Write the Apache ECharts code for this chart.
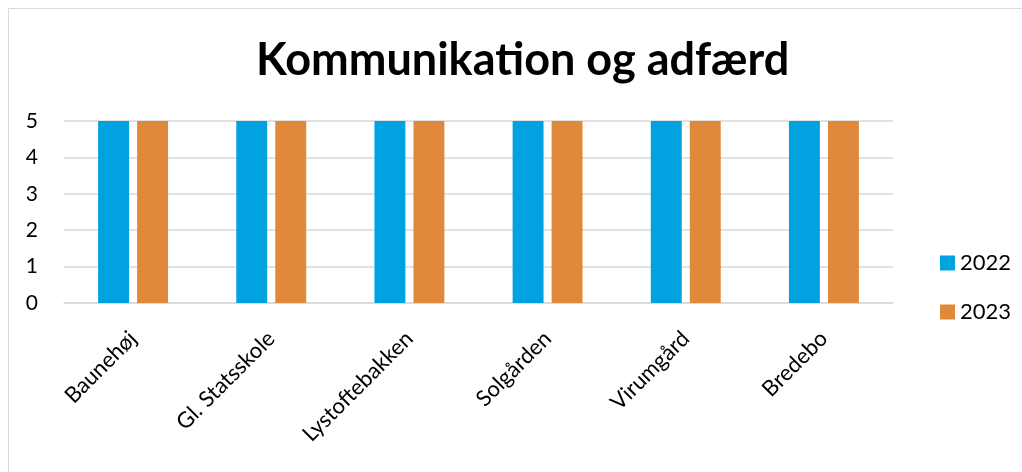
<!DOCTYPE html>
<html lang="da">
<head>
  <meta charset="UTF-8">
  <title>Kommunikation og adfærd</title>
  <style>
    html, body { margin: 0; padding: 0; background: #fff; }
    #chart { width: 1022px; height: 472px; }
  </style>
</head>
<body>
  <div id="chart"></div>
</body>
<script src="https://cdn.jsdelivr.net/npm/echarts@6/dist/echarts.min.js"></script>
<script>
  // data
  let categories = ['Baunehøj', 'Gl. Statsskole', 'Lystoftebakken', 'Solgården', 'Virumgård', 'Bredebo']
  let values2022 = [5, 5, 5, 5, 5, 5]
  let values2023 = [5, 5, 5, 5, 5, 5]
  let seriesNames = ['2022', '2023']

  let font = 'Lato'
  let chart = echarts.init(document.getElementById('chart'))
  chart.setOption({
    animation: false,
    textStyle: { fontFamily: font },
    graphic: [
      {
        type: 'rect',
        shape: { x: 8.5, y: 8.5, width: 1100, height: 600 },
        style: { fill: 'none', stroke: '#d9d9d9', lineWidth: 1 }
      }
    ],
    title: {
      text: 'Kommunikation og adfærd',
      left: 251,
      top: 33,
      textStyle: { fontFamily: font, fontWeight: 'bold', fontSize: 45, color: '#000' }
    },
    legend: {
      orient: 'vertical',
      left: 935,
      top: 247,
      itemWidth: 15,
      itemHeight: 15,
      itemGap: 27,
      icon: 'rect',
      textStyle: { fontFamily: font, fontSize: 22, color: '#000' },
      data: seriesNames
    },
    grid: { left: 64, right: 129, top: 121, bottom: 169, containLabel: false },
    xAxis: {
      type: 'category',
      data: categories,
      axisLine: { lineStyle: { color: '#d9d9d9', width: 1.5 } },
      axisTick: { show: false },
      axisLabel: { rotate: 45, margin: 32, fontFamily: font, fontSize: 22, color: '#000' }
    },
    yAxis: {
      type: 'value',
      min: 0,
      max: 5,
      interval: 1,
      axisLine: { show: false },
      axisTick: { show: false },
      splitLine: { lineStyle: { color: '#d9d9d9', width: 1.5 } },
      axisLabel: { margin: 26, fontFamily: font, fontSize: 21, color: '#000' }
    },
    series: [
      {
        name: seriesNames[0],
        type: 'bar',
        data: values2022,
        barWidth: '22.4%',
        barGap: '26%',
        itemStyle: { color: '#00a3e0' }
      },
      {
        name: seriesNames[1],
        type: 'bar',
        data: values2023,
        barWidth: '22.4%',
        barGap: '26%',
        itemStyle: { color: '#e0883b' }
      }
    ]
  })
</script>
</html>
